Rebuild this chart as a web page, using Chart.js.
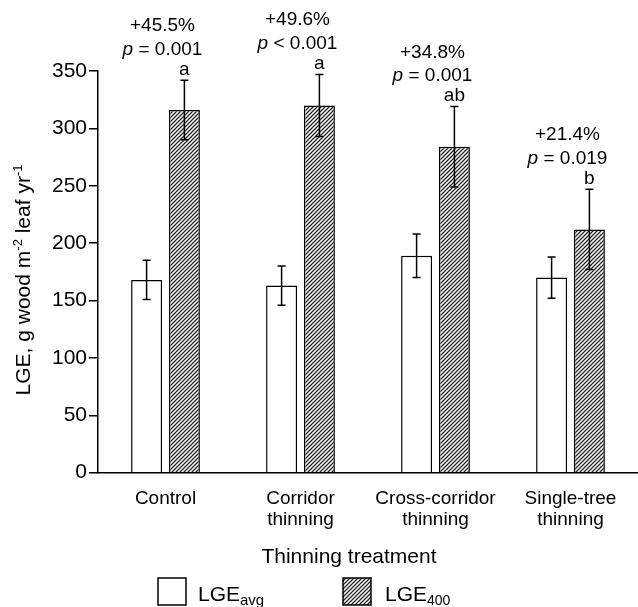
<!DOCTYPE html>
<html>
<head>
<meta charset="utf-8">
<script src="https://cdn.jsdelivr.net/npm/chart.js@4.4.1/dist/chart.umd.min.js"></script>
<style>
  html, body { margin: 0; padding: 0; background: #fff; }
  #wrap { width: 638px; height: 607px; }
</style>
</head>
<body>
<div id="wrap"><canvas id="lgeChart" width="638" height="607"></canvas></div>
<script>
const categories = [["Control"], ["Corridor", "thinning"], ["Cross-corridor", "thinning"], ["Single-tree", "thinning"]];
const lgeAvg = [168, 163, 189, 170];
const lgeAvgErr = [17, 17, 19, 18];
const lge400 = [316, 320, 284, 212];
const lge400Err = [26, 27, 35, 35];
const pctLabels = ["+45.5%", "+49.6%", "+34.8%", "+21.4%"];
const pLabels = [" = 0.001", " < 0.001", " = 0.001", " = 0.019"];
const letterLabels = ["a", "a", "ab", "b"];

const FONT = "'Liberation Sans', Arial, sans-serif";

function makeHatch() {
  const c = document.createElement("canvas");
  c.width = 4;
  c.height = 4;
  const g = c.getContext("2d");
  g.fillStyle = "#fff";
  g.fillRect(0, 0, 4, 4);
  g.strokeStyle = "#222";
  g.lineWidth = 1.25;
  g.beginPath();
  g.moveTo(-1, 5); g.lineTo(5, -1);
  g.moveTo(-1, 1); g.lineTo(1, -1);
  g.moveTo(3, 5); g.lineTo(5, 3);
  g.stroke();
  return g.createPattern(c, "repeat");
}
const hatch = makeHatch();

function fontStr(p) {
  return (p.italic ? "italic " : "") + p.size + "px " + FONT;
}
function richWidth(ctx, parts) {
  return parts.reduce((w, p) => {
    ctx.font = fontStr(p);
    return w + ctx.measureText(p.text).width;
  }, 0);
}
// draws a run of text pieces (sub/superscripts, italics) starting at x
function drawRich(ctx, parts, x, baseline) {
  ctx.textAlign = "left";
  ctx.textBaseline = "alphabetic";
  parts.forEach((p) => {
    ctx.font = fontStr(p);
    ctx.fillText(p.text, x, baseline + (p.dy || 0));
    x += ctx.measureText(p.text).width;
  });
}

const errorBars = {
  id: "errorBars",
  afterDatasetsDraw(chart) {
    const ctx = chart.ctx;
    const y = chart.scales.y;
    const errs = [lgeAvgErr, lge400Err];
    ctx.save();
    ctx.strokeStyle = "#000";
    ctx.lineWidth = 1.5;
    chart.data.datasets.forEach((ds, di) => {
      chart.getDatasetMeta(di).data.forEach((bar, i) => {
        const top = y.getPixelForValue(ds.data[i] + errs[di][i]);
        const bot = y.getPixelForValue(ds.data[i] - errs[di][i]);
        ctx.beginPath();
        ctx.moveTo(bar.x, top); ctx.lineTo(bar.x, bot);
        ctx.moveTo(bar.x - 4, top); ctx.lineTo(bar.x + 4, top);
        ctx.moveTo(bar.x - 4, bot); ctx.lineTo(bar.x + 4, bot);
        ctx.stroke();
      });
    });
    ctx.restore();
  },
};

const annotations = {
  id: "annotations",
  afterDraw(chart) {
    const ctx = chart.ctx;
    const x = chart.scales.x;
    const y = chart.scales.y;
    const bars = chart.getDatasetMeta(1).data;
    ctx.save();
    ctx.fillStyle = "#000";
    categories.forEach((c, i) => {
      const gx = x.getPixelForValue(i) - 3;
      const letterBase = y.getPixelForValue(lge400[i] + lge400Err[i]) - 5.5;
      const pBase = letterBase - 20;
      const pctBase = pBase - 23.5;

      ctx.font = "19px " + FONT;
      ctx.textAlign = "center";
      ctx.textBaseline = "alphabetic";
      ctx.fillText(letterLabels[i], bars[i].x, letterBase);
      ctx.fillText(pctLabels[i], gx, pctBase);

      const parts = [{ text: "p", size: 19, italic: true }, { text: pLabels[i], size: 19 }];
      drawRich(ctx, parts, gx - richWidth(ctx, parts) / 2, pBase);
    });

    // y axis title with superscripts
    const yTitle = [
      { text: "LGE, g wood m", size: 21 },
      { text: "-2", size: 13, dy: -8 },
      { text: " leaf yr", size: 21 },
      { text: "-1", size: 13, dy: -8 },
    ];
    ctx.save();
    ctx.translate(30, 280);
    ctx.rotate(-Math.PI / 2);
    drawRich(ctx, yTitle, -richWidth(ctx, yTitle) / 2, 0);
    ctx.restore();

    // x axis title
    ctx.font = "21px " + FONT;
    ctx.textAlign = "center";
    ctx.fillText("Thinning treatment", 349, 563);

    // legend
    ctx.lineWidth = 1.5;
    ctx.strokeStyle = "#000";
    ctx.fillStyle = "#fff";
    ctx.fillRect(158, 578, 28, 27);
    ctx.strokeRect(158, 578, 28, 27);
    ctx.fillStyle = hatch;
    ctx.fillRect(343, 578, 28, 27);
    ctx.strokeRect(343, 578, 28, 27);
    ctx.fillStyle = "#000";
    drawRich(ctx, [{ text: "LGE", size: 21 }, { text: "avg", size: 15, dy: 4 }], 198, 600.5);
    drawRich(ctx, [{ text: "LGE", size: 21 }, { text: "400", size: 14, dy: 4 }], 385, 600.5);
    ctx.restore();
  },
};

new Chart(document.getElementById("lgeChart"), {
  type: "bar",
  data: {
    labels: categories,
    datasets: [
      {
        label: "LGEavg",
        data: lgeAvg,
        backgroundColor: "#fff",
        borderColor: "#000",
        borderWidth: 1.5,
        categoryPercentage: 0.56,
        barPercentage: 0.82,
      },
      {
        label: "LGE400",
        data: lge400,
        backgroundColor: hatch,
        borderColor: "#000",
        borderWidth: 1.5,
        categoryPercentage: 0.56,
        barPercentage: 0.82,
      },
    ],
  },
  options: {
    responsive: false,
    animation: false,
    layout: { padding: { top: 71, left: 0, right: 0, bottom: 0 } },
    plugins: {
      legend: { display: false },
      tooltip: { enabled: false },
    },
    scales: {
      x: {
        ticks: {
          color: "#000",
          font: { size: 19, family: FONT, lineHeight: 1.1 },
          padding: 16,
          maxRotation: 0,
          autoSkip: false,
        },
        grid: { display: false, drawTicks: false },
        border: { color: "#000", width: 1.5 },
        afterFit(s) { s.height = 134.3; },
      },
      y: {
        min: 0,
        max: 350,
        ticks: {
          stepSize: 50,
          color: "#000",
          font: { size: 21, family: FONT },
          padding: 2,
        },
        grid: { drawOnChartArea: false, drawTicks: true, tickLength: 9, color: "#000", lineWidth: 1.5 },
        border: { color: "#000", width: 1.5 },
        afterFit(s) { s.width = 98; },
      },
    },
  },
  plugins: [errorBars, annotations],
});
</script>
</body>
</html>
